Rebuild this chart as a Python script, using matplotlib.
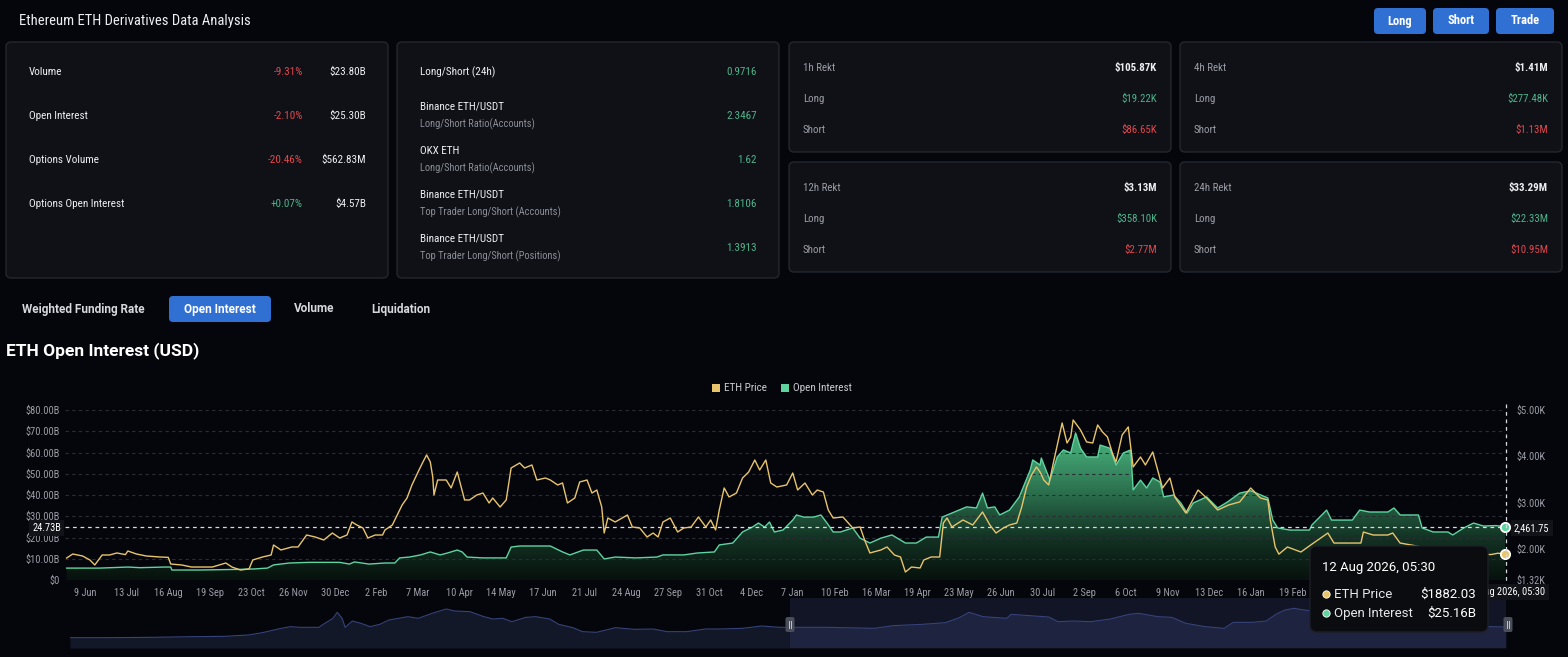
import numpy as np
import pandas as pd
import matplotlib
matplotlib.use("Agg")
import matplotlib.pyplot as plt
import matplotlib.dates as mdates
from matplotlib import font_manager
from matplotlib.patches import FancyBboxPatch, Rectangle
from matplotlib.colors import LinearSegmentedColormap

# ---------------- data ----------------
market_rows = ["Volume", "Open Interest", "Options Volume", "Options Open Interest"]
market_change = ["-9.31%", "-2.10%", "-20.46%", "+0.07%"]
market_value = ["$23.80B", "$25.30B", "$562.83M", "$4.57B"]

ratio_titles = ["Long/Short (24h)", "Binance ETH/USDT", "OKX ETH", "Binance ETH/USDT", "Binance ETH/USDT"]
ratio_subs = ["", "Long/Short Ratio(Accounts)", "Long/Short Ratio(Accounts)",
              "Top Trader Long/Short (Accounts)", "Top Trader Long/Short (Positions)"]
ratio_values = ["0.9716", "2.3467", "1.62", "1.8106", "1.3913"]

rekt_windows = ["1h Rekt", "4h Rekt", "12h Rekt", "24h Rekt"]
rekt_total = ["$105.87K", "$1.41M", "$3.13M", "$33.29M"]
rekt_long = ["$19.22K", "$277.48K", "$358.10K", "$22.33M"]
rekt_short = ["$86.65K", "$1.13M", "$2.77M", "$10.95M"]

tabs = ["Weighted Funding Rate", "Open Interest", "Volume", "Liquidation"]
buttons = ["Long", "Short", "Trade"]

price_dates = [
    "2023-05-25", "2023-05-30", "2023-06-07", "2023-06-13", "2023-06-17", "2023-06-23", "2023-06-29",
    "2023-07-05", "2023-07-12", "2023-07-14", "2023-07-21", "2023-07-29", "2023-08-09", "2023-08-16",
    "2023-08-18", "2023-08-27", "2023-09-04", "2023-09-12", "2023-09-21", "2023-10-02", "2023-10-07",
    "2023-10-14", "2023-10-21", "2023-10-24", "2023-11-01", "2023-11-08", "2023-11-10", "2023-11-16",
    "2023-11-25", "2023-11-30", "2023-12-07", "2023-12-14", "2023-12-21", "2023-12-28", "2024-01-03",
    "2024-01-09", "2024-01-13", "2024-01-17", "2024-01-22", "2024-01-26", "2024-02-01", "2024-02-07",
    "2024-02-09", "2024-02-15", "2024-02-19", "2024-02-23", "2024-02-27", "2024-03-02", "2024-03-07",
    "2024-03-11", "2024-03-14", "2024-03-17", "2024-03-19", "2024-03-20", "2024-03-23", "2024-03-30",
    "2024-04-03", "2024-04-08", "2024-04-14", "2024-04-18", "2024-04-24", "2024-04-29", "2024-05-04",
    "2024-05-07", "2024-05-13", "2024-05-18", "2024-05-22", "2024-05-29", "2024-06-02", "2024-06-08",
    "2024-06-12", "2024-06-19", "2024-06-23", "2024-06-29", "2024-07-03", "2024-07-07", "2024-07-13",
    "2024-07-17", "2024-07-23", "2024-07-27", "2024-07-31", "2024-08-04", "2024-08-06", "2024-08-09",
    "2024-08-15", "2024-08-25", "2024-08-29", "2024-09-04", "2024-09-10", "2024-09-15", "2024-09-19",
    "2024-09-23", "2024-09-29", "2024-10-05", "2024-10-10", "2024-10-16", "2024-10-22", "2024-10-28",
    "2024-11-01", "2024-11-05", "2024-11-08", "2024-11-12", "2024-11-16", "2024-11-22", "2024-11-27",
    "2024-12-02", "2024-12-07", "2024-12-11", "2024-12-16", "2024-12-20", "2024-12-25", "2025-01-02",
    "2025-01-07", "2025-01-11", "2025-01-17", "2025-01-23", "2025-01-27", "2025-02-01", "2025-02-05",
    "2025-02-09", "2025-02-17", "2025-02-25", "2025-03-03", "2025-03-07", "2025-03-11", "2025-03-20",
    "2025-03-25", "2025-03-31", "2025-04-05", "2025-04-09", "2025-04-14", "2025-04-21", "2025-04-24",
    "2025-04-30", "2025-05-07", "2025-05-10", "2025-05-13", "2025-05-17", "2025-05-26", "2025-06-03",
    "2025-06-11", "2025-06-17", "2025-06-22", "2025-06-28", "2025-07-03", "2025-07-09", "2025-07-13",
    "2025-07-17", "2025-07-21", "2025-07-25", "2025-07-28", "2025-07-31", "2025-08-04", "2025-08-08",
    "2025-08-12", "2025-08-15", "2025-08-19", "2025-08-22", "2025-08-24", "2025-08-30", "2025-09-04",
    "2025-09-09", "2025-09-13", "2025-09-17", "2025-09-21", "2025-09-25", "2025-09-28", "2025-10-03",
    "2025-10-08", "2025-10-12", "2025-10-18", "2025-10-22", "2025-10-28", "2025-11-05", "2025-11-11",
    "2025-11-15", "2025-11-24", "2025-12-04", "2025-12-11", "2025-12-20", "2025-12-29", "2026-01-07",
    "2026-01-16", "2026-01-24", "2026-01-30", "2026-02-01", "2026-02-05", "2026-02-08", "2026-02-15",
    "2026-02-26", "2026-03-06", "2026-03-20", "2026-03-25", "2026-04-05", "2026-04-16", "2026-04-18",
    "2026-04-26", "2026-05-08", "2026-05-12", "2026-05-18", "2026-05-27", "2026-06-12", "2026-06-28",
    "2026-07-15", "2026-07-31", "2026-08-06", "2026-08-12",
]
eth_price = [
    1796, 1883, 1840, 1753, 1645, 1861, 1861,
    1905, 1870, 1948, 1883, 1840, 1818, 1810,
    1666, 1645, 1601, 1601, 1601, 1688, 1601,
    1536, 1560, 1753, 1818, 1861, 2078, 1970,
    2035, 2035, 2294, 2251, 2186, 2337, 2229,
    2294, 2576, 2511, 2446, 2229, 2294, 2294,
    2403, 2511, 2727, 2944, 3095, 3377, 3658,
    3875, 4027, 3875, 3550, 3160, 3485, 3485,
    3312, 3658, 3052, 3052, 3160, 3203, 2987,
    3095, 2900, 3052, 3745, 3853, 3745, 3810,
    3485, 3528, 3485, 3377, 3420, 2987, 3095,
    3442, 3485, 3203, 3268, 2900, 2337, 2662,
    2576, 2727, 2467, 2446, 2251, 2337, 2251,
    2576, 2662, 2359, 2446, 2467, 2684, 2467,
    2619, 2403, 2835, 3312, 3117, 3203, 3528,
    3658, 3918, 3701, 3918, 3420, 3333, 3377,
    3636, 3268, 3420, 3160, 3268, 3225, 2835,
    2662, 2684, 2446, 2467, 2164, 1905, 1970,
    2035, 1861, 1818, 1493, 1601, 1580, 1753,
    1818, 1818, 2554, 2662, 2467, 2619, 2511,
    2792, 2511, 2337, 2446, 2511, 2554, 2900,
    3333, 3593, 3766, 3658, 3485, 3377, 3875,
    4351, 4719, 4286, 4416, 4784, 4568, 4308,
    4286, 4676, 4524, 4416, 4070, 3875, 4460,
    4633, 3766, 3983, 3810, 4091, 3312, 3528,
    3117, 2770, 3268, 3095, 2835, 2944, 3010,
    3312, 3095, 3052, 2619, 2035, 1880, 2035,
    1926, 2078, 2337, 2120, 2120, 2120, 2359,
    2294, 2294, 2337, 2120, 2078, 2000, 1950,
    1900, 1870, 1900, 1882.03,
]

oi_dates = [
    "2023-05-25", "2023-06-21", "2023-07-14", "2023-07-24", "2023-08-13", "2023-08-18", "2023-08-19",
    "2023-09-10", "2023-10-13", "2023-10-25", "2023-11-05", "2023-11-10", "2023-11-23", "2023-12-09",
    "2024-01-03", "2024-01-11", "2024-01-15", "2024-01-27", "2024-02-09", "2024-02-17", "2024-02-21",
    "2024-02-29", "2024-03-09", "2024-03-17", "2024-03-25", "2024-03-31", "2024-04-08", "2024-04-12",
    "2024-04-16", "2024-04-29", "2024-05-18", "2024-05-22", "2024-05-29", "2024-06-23", "2024-07-03",
    "2024-07-09", "2024-07-20", "2024-07-31", "2024-08-06", "2024-08-15", "2024-09-01", "2024-09-18",
    "2024-09-23", "2024-10-10", "2024-10-21", "2024-11-04", "2024-11-08", "2024-11-19", "2024-11-27",
    "2024-12-05", "2024-12-10", "2024-12-15", "2024-12-19", "2024-12-23", "2024-12-30", "2025-01-07",
    "2025-01-10", "2025-01-16", "2025-01-24", "2025-01-30", "2025-02-04", "2025-02-09", "2025-02-15",
    "2025-02-25", "2025-03-03", "2025-03-11", "2025-03-20", "2025-03-29", "2025-04-09", "2025-04-18",
    "2025-04-26", "2025-05-06", "2025-05-09", "2025-05-17", "2025-05-29", "2025-06-06", "2025-06-11",
    "2025-06-15", "2025-06-21", "2025-06-25", "2025-07-03", "2025-07-11", "2025-07-20", "2025-07-22",
    "2025-07-28", "2025-07-29", "2025-08-05", "2025-08-11", "2025-08-16", "2025-08-22", "2025-08-26",
    "2025-08-30", "2025-09-04", "2025-09-13", "2025-09-15", "2025-09-23", "2025-09-28", "2025-10-04",
    "2025-10-10", "2025-10-12", "2025-10-18", "2025-10-23", "2025-10-28", "2025-11-03", "2025-11-06",
    "2025-11-14", "2025-11-20", "2025-11-25", "2025-11-30", "2025-12-11", "2025-12-20", "2025-12-28",
    "2026-01-07", "2026-01-16", "2026-01-30", "2026-02-03", "2026-02-07", "2026-02-17", "2026-03-05",
    "2026-03-07", "2026-03-19", "2026-03-23", "2026-04-09", "2026-04-15", "2026-04-23", "2026-05-08",
    "2026-05-13", "2026-05-18", "2026-06-02", "2026-06-05", "2026-06-14", "2026-06-26", "2026-06-30",
    "2026-07-09", "2026-07-17", "2026-07-25", "2026-08-04", "2026-08-12",
]
open_interest = [
    5.6, 5.6, 6.1, 5.8, 6.1, 6.1, 4.7,
    4.7, 5.0, 5.2, 5.6, 7.1, 8.0, 8.3,
    8.3, 7.5, 8.5, 7.5, 8.0, 8.0, 10.4,
    10.8, 11.8, 13.2, 11.8, 12.7, 14.1, 13.2,
    10.8, 10.4, 10.4, 15.5, 16.0, 16.0, 13.2,
    11.8, 14.1, 14.1, 9.9, 10.8, 10.4, 10.8,
    11.8, 11.8, 12.7, 13.2, 16.5, 17.4, 22.6,
    24.9, 26.8, 24.9, 27.3, 22.6, 23.5, 28.2,
    30.6, 29.6, 29.6, 30.6, 26.8, 22.6, 22.6,
    24.5, 19.7, 17.4, 19.7, 21.2, 17.4, 17.4,
    20.2, 20.2, 29.6, 31.5, 34.4, 33.9, 40.9,
    33.9, 34.4, 30.6, 32.9, 39.1, 51.8, 56.5,
    54.1, 57.4, 47.0, 57.9, 61.2, 59.8, 69.2,
    62.0, 57.9, 57.9, 63.5, 62.0, 54.1, 59.8,
    61.2, 42.4, 47.0, 43.3, 48.0, 46.1, 39.1,
    40.0, 36.2, 31.5, 36.2, 39.1, 33.9, 36.7,
    40.9, 42.0, 38.6, 28.2, 24.5, 23.5, 23.5,
    25.9, 32.9, 28.2, 28.2, 32.9, 32.0, 32.0,
    33.9, 30.6, 30.6, 24.5, 22.6, 22.6, 21.2,
    24.5, 26.8, 25.4, 25.6, 25.16,
]

# overview slider: whole price history, relative height
nav_dates = [
    "2020-02-26", "2020-04-26", "2020-07-12", "2020-09-13", "2020-11-06", "2020-12-15", "2021-01-07",
    "2021-02-07", "2021-02-22", "2021-03-10", "2021-04-10", "2021-04-17", "2021-05-03", "2021-05-10",
    "2021-05-18", "2021-05-23", "2021-06-04", "2021-06-18", "2021-07-03", "2021-07-19", "2021-08-03",
    "2021-09-03", "2021-09-20", "2021-10-13", "2021-11-05", "2021-11-19", "2021-12-14", "2022-01-06",
    "2022-01-21", "2022-02-06", "2022-02-21", "2022-03-16", "2022-04-01", "2022-04-24", "2022-05-09",
    "2022-06-01", "2022-06-17", "2022-07-10", "2022-08-10", "2022-09-10", "2022-10-11", "2022-11-03",
    "2022-12-05", "2023-01-05", "2023-01-28", "2023-03-07", "2023-04-07", "2023-05-08", "2023-05-31",
    "2023-07-24", "2023-10-09", "2023-11-09", "2023-12-27", "2024-02-03", "2024-02-26", "2024-03-13",
    "2024-04-05", "2024-04-20", "2024-05-14", "2024-05-21", "2024-06-21", "2024-07-22", "2024-08-06",
    "2024-08-31", "2024-09-29", "2024-10-31", "2024-12-01", "2024-12-17", "2025-01-17", "2025-02-09",
    "2025-03-04", "2025-04-05", "2025-05-06", "2025-05-21", "2025-06-21", "2025-07-14", "2025-07-30",
    "2025-08-14", "2025-08-29", "2025-09-14", "2025-09-29", "2025-11-29", "2026-02-19", "2026-05-12",
    "2026-07-17", "2026-08-12",
]
nav_values = [
    0, 0, 1, 3, 4, 8, 15,
    28, 33, 31, 31, 40, 58, 76,
    58, 31, 50, 43, 33, 40, 53,
    63, 58, 73, 86, 80, 78, 63,
    56, 58, 48, 61, 63, 56, 40,
    30, 18, 16, 30, 25, 26, 18,
    18, 26, 26, 28, 35, 31, 31,
    31, 28, 36, 40, 45, 60, 76,
    63, 61, 58, 70, 66, 62, 48,
    50, 48, 56, 70, 73, 63, 61,
    43, 33, 28, 46, 46, 50, 70,
    83, 88, 83, 80, 60, 45, 42,
    33, 32,
]

view_start, view_end = "2023-05-24", "2026-08-12"
nav_start = "2020-02-26"
tick_start, tick_step, tick_count = "2023-06-09", "34D", 35
tooltip_covers_from = "2026-03-01"   # axis labels after this sit under the tooltip
cursor_oi, cursor_price = 24.73, "2,461.75"
tooltip_time = "12 Aug 2026, 05:30"

# ---------------- style ----------------
W, H = 1568, 657
BG = "#05060b"
CARD = "#0f1116"
EDGE = "#24272e"
BLUE = "#3170d3"
WHITE = "#eceef2"
GRAY = "#9a9da5"
SUB = "#8b8e96"
UP = "#4db38a"
DOWN = "#e2474f"
YEL = "#e8c46c"
GRN = "#5fd3a0"

names = {f.name for f in font_manager.fontManager.ttflist}
NARROW = "Roboto"
for cand in ["Roboto Condensed", "Liberation Sans Narrow"]:
    if cand in names:
        NARROW = cand
        break
plt.rcParams["font.family"] = ["Roboto", "DejaVu Sans"]
NF = [NARROW, "DejaVu Sans"]

fig = plt.figure(figsize=(W / 100, H / 100), dpi=100, facecolor=BG)


def frac(x0, y0, x1, y1):
    return [x0 / W, 1 - y1 / H, (x1 - x0) / W, (y1 - y0) / H]


def pixel_axes(z):
    a = fig.add_axes([0, 0, 1, 1], zorder=z)
    a.set_xlim(0, W)
    a.set_ylim(H, 0)
    a.axis("off")
    a.patch.set_visible(False)
    return a


def box(a, x0, y0, x1, y1, fc, ec="none", r=5, lw=1.0, z=1):
    a.add_patch(FancyBboxPatch((x0, y0), x1 - x0, y1 - y0,
                               boxstyle=f"round,pad=0,rounding_size={r}",
                               fc=fc, ec=ec, lw=lw, zorder=z))


base = pixel_axes(0)

# header
base.text(19, 21, "Ethereum ETH Derivatives Data Analysis", color=WHITE, fontsize=10.5,
          family=NF, va="center")
for label, (bx0, bx1) in zip(buttons, [(1374, 1426), (1433, 1489), (1496, 1554)]):
    box(base, bx0, 8, bx1, 34, BLUE, r=4)
    base.text((bx0 + bx1) / 2, 21, label, color="white", fontsize=9, weight="bold",
              family=NF, ha="center", va="center")

# card 1: market overview
box(base, 6, 42, 388, 278, CARD, EDGE)
for i, (lab, chg, val) in enumerate(zip(market_rows, market_change, market_value)):
    y = 72 + 44 * i
    base.text(29, y, lab, color=WHITE, fontsize=8, family=NF, va="center")
    base.text(303, y, chg, color=DOWN if chg.startswith("-") else UP, fontsize=8,
              family=NF, va="center", ha="right")
    base.text(366, y, val, color=WHITE, fontsize=8, family=NF, va="center", ha="right")

# card 2: long/short ratios
box(base, 397, 42, 779, 278, CARD, EDGE)
for i, (t, s, v) in enumerate(zip(ratio_titles, ratio_subs, ratio_values)):
    y = 72 + 44 * i
    if s:
        base.text(420, y - 9, t, color=WHITE, fontsize=8, family=NF, va="center")
        base.text(420, y + 8, s, color=SUB, fontsize=7.5, family=NF, va="center")
    else:
        base.text(420, y, t, color=WHITE, fontsize=8, family=NF, va="center")
    base.text(757, y, v, color=UP, fontsize=8, family=NF, va="center", ha="right")

# rekt cards
rekt_boxes = [(789, 42, 1171, 152), (1180, 42, 1562, 152), (789, 162, 1171, 272), (1180, 162, 1562, 272)]
for (x0, y0, x1, y1), w, tot, lg, sh in zip(rekt_boxes, rekt_windows, rekt_total, rekt_long, rekt_short):
    box(base, x0, y0, x1, y1, CARD, EDGE)
    rows = [(w, GRAY, tot, WHITE), ("Long", GRAY, lg, UP), ("Short", GRAY, sh, DOWN)]
    for k, (lab, lc, val, vc) in enumerate(rows):
        y = y0 + 26 + 31 * k
        base.text(x0 + 14, y, lab, color=lc, fontsize=7.8, family=NF, va="center")
        base.text(x1 - 14, y, val, color=vc, fontsize=7.8, family=NF, va="center", ha="right",
                  weight="bold" if k == 0 else "normal")

# tabs
tab_centers = [83, 220, 314, 401]
box(base, 169, 296, 271, 322, BLUE, r=4)
for t, cx in zip(tabs, tab_centers):
    base.text(cx, 309, t, color="white" if t == "Open Interest" else "#d6d8dd", fontsize=8.5,
              weight="bold", ha="center", va="center")

base.text(6, 351, "ETH Open Interest (USD)", color="white", fontsize=12.5, weight="bold", va="center")

# legend
base.add_patch(Rectangle((712, 384), 8, 8, fc=YEL, ec="none"))
base.text(724, 388, "ETH Price", color="#c9cbd1", fontsize=8, family=NF, va="center")
base.add_patch(Rectangle((781, 384), 8, 8, fc=GRN, ec="none"))
base.text(793, 388, "Open Interest", color="#c9cbd1", fontsize=8, family=NF, va="center")

# ---------------- main chart ----------------
xo = mdates.date2num(pd.to_datetime(oi_dates))
xp = mdates.date2num(pd.to_datetime(price_dates))
x0 = mdates.date2num(pd.Timestamp(view_start))
x1 = mdates.date2num(pd.Timestamp(view_end))

ax = fig.add_axes(frac(65.4, 410, 1505.4, 580), zorder=1)
ax.set_facecolor("none")

fill = ax.fill_between(xo, open_interest, 0, facecolor="none", edgecolor="none")
cmap = LinearSegmentedColormap.from_list(
    "oi", ["#07110d", "#133324", "#2a6c4b", "#41a171", "#4bb07e"])
grad = np.linspace(0, 1, 256).reshape(-1, 1)
im = ax.imshow(grad, cmap=cmap, origin="lower", aspect="auto", extent=[x0, x1, 0, 80], zorder=1)
im.set_clip_path(fill.get_paths()[0], transform=ax.transData)

for v in range(0, 81, 10):
    ax.axhline(v, color="#2a2d35", lw=0.8, ls=(0, (3, 3)), zorder=2)
ax.plot(xo, open_interest, color=GRN, lw=1.0, zorder=3)
ax.axhline(cursor_oi, color="#d8dade", lw=0.9, ls=(0, (3, 3)), zorder=4)
ax.scatter([xo[-1]], [open_interest[-1]], s=45, color=GRN, edgecolors="white", linewidths=1.3,
           zorder=6, clip_on=False)

ax.set_xlim(x0, x1)
ax.set_ylim(0, 80)
ax.set_yticks(range(0, 81, 10))
ax.set_yticklabels(["$0"] + [f"${v:.2f}B" for v in range(10, 81, 10)])
ticks = pd.date_range(tick_start, periods=tick_count, freq=tick_step)
ax.set_xticks(mdates.date2num(ticks))
ax.set_xticklabels([f"{d.day} {d.strftime('%b')}" if d < pd.Timestamp(tooltip_covers_from) else ""
                    for d in ticks])
ax.tick_params(axis="both", length=0, colors=GRAY, labelsize=7.5)
ax.tick_params(axis="x", pad=6)
ax.tick_params(axis="y", pad=4)
for lab in ax.get_xticklabels() + ax.get_yticklabels():
    lab.set_family(NF)
for s in ax.spines.values():
    s.set_visible(False)

ax2 = ax.twinx()
ax2.set_zorder(2)
ax2.patch.set_visible(False)
ax2.plot(xp, eth_price, color=YEL, lw=1.0, zorder=3)
ax2.scatter([xp[-1]], [eth_price[-1]], s=45, color=YEL, edgecolors="white", linewidths=1.3,
            zorder=6, clip_on=False)
ax2.set_xlim(x0, x1)
ax2.set_ylim(1320, 5000)
price_ticks = [1320, 2000, 3000, 4000, 5000]
ax2.set_yticks(price_ticks)
ax2.set_yticklabels([f"${v / 1000:.2f}K" for v in price_ticks])
ax2.tick_params(axis="y", length=0, colors=GRAY, labelsize=7.5, pad=8)
for lab in ax2.get_yticklabels():
    lab.set_family(NF)
for s in ax2.spines.values():
    s.set_visible(False)

# ---------------- overview slider ----------------
nav = fig.add_axes(frac(70, 598, 1506, 648), zorder=1)
nav.set_facecolor("none")
xn = mdates.date2num(pd.to_datetime(nav_dates))
nav.fill_between(xn, nav_values, -31, color="#131829", lw=0)
nav.plot(xn, nav_values, color="#36437a", lw=0.8)
nav.axvspan(x0, x1, color="#5868b8", alpha=0.16, lw=0)
nav.set_xlim(mdates.date2num(pd.Timestamp(nav_start)), x1)
nav.set_ylim(-31, 119)
nav.axis("off")

# ---------------- overlay: crosshair labels ----------------
top = pixel_axes(5)
top.plot([1506, 1506], [404, 588], color="#d8dade", lw=0.9, ls=(0, (3, 3)))
for hx in (790, 1508):
    box(top, hx - 4.5, 617, hx + 4.5, 632, "#4a4e5b", r=2)
    top.plot([hx - 1.3, hx - 1.3], [621, 628], color="#c0c3cc", lw=0.7)
    top.plot([hx + 1.3, hx + 1.3], [621, 628], color="#c0c3cc", lw=0.7)

top.text(61, 528, f"{cursor_oi:.2f}B", color="white", fontsize=7.5, family=NF, ha="right", va="center",
         bbox=dict(fc="#111318", ec="none", pad=2.5))
top.text(1514, 528, cursor_price, color="white", fontsize=7.5, family=NF, ha="left", va="center",
         bbox=dict(fc="#111318", ec="none", pad=2.5))
top.text(1506, 592, tooltip_time, color="white", fontsize=7.5, family=NF, ha="center", va="center",
         bbox=dict(fc="#111318", ec="none", pad=2.5))

# ---------------- tooltip (drawn above everything) ----------------
tip = pixel_axes(8)
box(tip, 1310, 546, 1488, 632, "#0b0c10", "#1d1f25", r=7)
tip.text(1322, 567, tooltip_time, color="white", fontsize=9.5, va="center")
for y, name, val, c in [(594, "ETH Price", f"${eth_price[-1]:.2f}", YEL),
                        (613, "Open Interest", f"${open_interest[-1]:.2f}B", GRN)]:
    tip.scatter([1326], [y], s=28, color=c, edgecolors="white", linewidths=0.6, zorder=3)
    tip.text(1334, y, name, color="#e4e6ea", fontsize=9.5, va="center")
    tip.text(1476, y, val, color="white", fontsize=9.5, va="center", ha="right")

fig.savefig("out.png", dpi=100, facecolor=BG)
